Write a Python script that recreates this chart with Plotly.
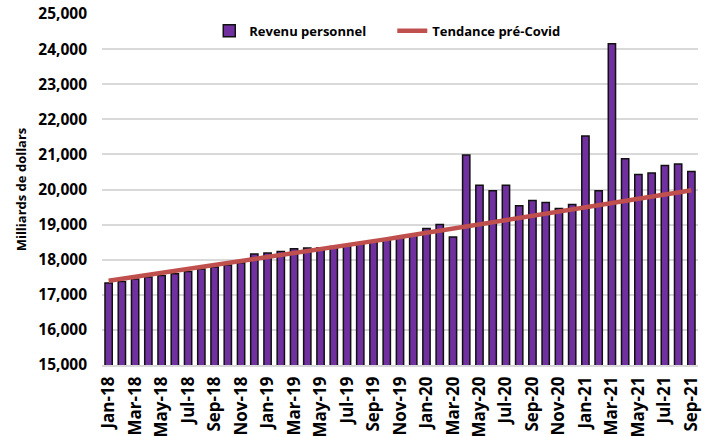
import plotly.graph_objects as go

months = ["Jan-18","Feb-18","Mar-18","Apr-18","May-18","Jun-18","Jul-18","Aug-18","Sep-18","Oct-18","Nov-18","Dec-18",
          "Jan-19","Feb-19","Mar-19","Apr-19","May-19","Jun-19","Jul-19","Aug-19","Sep-19","Oct-19","Nov-19","Dec-19",
          "Jan-20","Feb-20","Mar-20","Apr-20","May-20","Jun-20","Jul-20","Aug-20","Sep-20","Oct-20","Nov-20","Dec-20",
          "Jan-21","Feb-21","Mar-21","Apr-21","May-21","Jun-21","Jul-21","Aug-21","Sep-21"]

revenu = [17334, 17381, 17449, 17506, 17551, 17600, 17666, 17734, 17791, 17849, 17914, 18160,
          18190, 18237, 18310, 18330, 18340, 18375, 18420, 18470, 18525, 18590, 18650, 18690,
          18886, 19000, 18650, 20980, 20123, 19963, 20123, 19534, 19686, 19629, 19457, 19571,
          21523, 19963, 24150, 20877, 20429, 20467, 20686, 20723, 20514]

tendance = [17400, 17455, 17510, 17565, 17620, 17675, 17731, 17787, 17843, 17899, 17955, 18012,
            18068, 18125, 18182, 18239, 18297, 18354, 18412, 18470, 18528, 18586, 18645, 18704,
            18762, 18821, 18881, 18940, 19000, 19060, 19120, 19180, 19240, 19301, 19362, 19423,
            19484, 19545, 19607, 19668, 19730, 19792, 19855, 19917, 19980]

tick_labels = months[::2]
y_ticks = [15000, 16000, 17000, 18000, 19000, 20000, 21000, 22000, 23000, 24000, 25000]

font_family = "'Open Sans', sans-serif"

fig = go.Figure()
fig.add_trace(go.Bar(
    x=months, y=revenu, name="Revenu personnel",
    marker=dict(color="#7030A0", line=dict(color="#111111", width=1.5)),
))
fig.add_trace(go.Scatter(
    x=months, y=tendance, name="Tendance pré-Covid", mode="lines",
    line=dict(color="#C0504D", width=4.5),
))

fig.update_layout(
    width=705, height=436,
    margin=dict(l=102, r=7, t=14, b=71, autoexpand=False),
    paper_bgcolor="white", plot_bgcolor="white",
    bargap=0.45,
    font=dict(family=font_family, color="black"),
    showlegend=True,
    legend=dict(
        orientation="h", x=0.18, y=0.995, xanchor="left", yanchor="top",
        font=dict(size=13, family=font_family, weight="bold"),
        bgcolor="rgba(255,255,255,0)", itemwidth=30,
        entrywidth=138, entrywidthmode="pixels",
        traceorder="normal",
    ),
    xaxis=dict(
        type="category", tickmode="array", tickvals=tick_labels, ticktext=tick_labels,
        tickangle=-90, tickfont=dict(size=17, weight="bold"),
        showgrid=False, showline=True, linecolor="#d9d9d9", linewidth=1.5,
        ticks="", range=[-0.5, 44.5], automargin=False, ticklabelstandoff=3,
    ),
    yaxis=dict(
        range=[15000, 25000], tickvals=y_ticks, tickformat=",",
        tickfont=dict(size=15.5, weight="bold"),
        showgrid=True, gridcolor="#d9d9d9", gridwidth=1.5,
        zeroline=False, showline=False, ticks="", automargin=False,
        ticklabelstandoff=14,
        title=dict(text="Milliards de dollars", font=dict(size=13, weight="bold"), standoff=8),
    ),
)

html = fig.to_html(full_html=True, config={"displayModeBar": False})
html = html.replace("<head>", "<head><style>html,body{margin:0;padding:0;overflow:hidden;}</style>", 1)
with open("out.html", "w", encoding="utf-8") as f:
    f.write(html)
